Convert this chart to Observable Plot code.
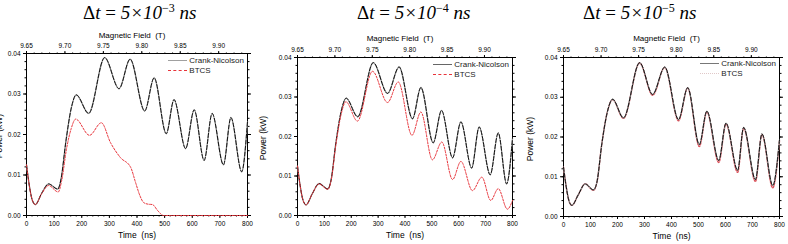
<!DOCTYPE html>
<html><head><meta charset="utf-8">
<script src="https://cdn.jsdelivr.net/npm/d3@7"></script>
<script src="https://cdn.jsdelivr.net/npm/@observablehq/plot@0.6"></script>
<style>
body{margin:0;width:788px;height:244px;overflow:hidden;background:#fff;position:relative;font-family:"Liberation Sans",Arial,sans-serif;}
.title{position:absolute;top:2px;font-family:"Liberation Serif","Times New Roman",serif;font-size:19px;white-space:nowrap;line-height:22px;color:#000}
.title sup{font-size:12px;vertical-align:0;position:relative;top:-7px}
.panel{position:absolute;top:0}
.panel svg{max-width:none !important;display:block}
.ylab{position:absolute;font-size:8.5px;line-height:10px;white-space:nowrap;color:#000;transform:translate(-50%,-50%) rotate(-90deg)}
.legend{position:absolute;font-size:8px;line-height:10px;color:#222;white-space:nowrap}
.legend .sw{display:inline-block;width:19px;height:0;vertical-align:middle;margin-right:2px}
</style></head><body>
<script>
// ---- axis ticks ----
const timeTicks = [0, 100, 200, 300, 400, 500, 600, 700, 800];
const timeMinor = d3.range(0, 801, 20);
const powerTicks = [0, 0.01, 0.02, 0.03, 0.04];
const powerMinor = d3.range(0, 0.0401, 0.002);
const fieldTicks = [9.65, 9.70, 9.75, 9.80, 9.85, 9.90];
const fieldMinor = d3.range(9.65, 9.9376, 0.01);
const fieldDomain = [9.65, 9.9375];
const timeDomain = [0, 800];

// ---- panel 1 (dt = 5e-3 ns) ----
const cnT1 = [0,10,20,32,55,80,113,125,143,162,180,225,283,335,375,428,462,506,534,576,607,643,672,713,740,779,800];
const cnV1 = [0.0125,0.0075,0.0040,0.0027,0.0055,0.0078,0.0065,0.0090,0.0185,0.0265,0.0298,0.0252,0.0390,0.0313,0.0386,0.0258,0.0340,0.0202,0.0286,0.0165,0.0261,0.0136,0.0252,0.0125,0.0242,0.0108,0.0231];
const btT1 = [0,10,20,32,55,80,115,127,145,162,178,228,271,304,340,377,395,410,424,440,456,475,496,800];
const btV1 = [0.0125,0.0075,0.0040,0.0027,0.0054,0.0074,0.0058,0.0085,0.0165,0.0215,0.0238,0.0198,0.0229,0.0180,0.0143,0.0119,0.0081,0.0050,0.0032,0.0028,0.0027,0.0012,0,0];

// ---- panel 2 (dt = 5e-4 ns) ----
const cnT2 = [0,10,20,32,55,80,113,125,143,162,181,224,282,335,378,428,459,505,536,577,608,648,676,717,747,778,800];
const cnV2 = [0.0125,0.0075,0.0040,0.0027,0.0055,0.0081,0.0067,0.0090,0.0185,0.0262,0.0297,0.0250,0.0387,0.0309,0.0376,0.0245,0.0324,0.0184,0.0266,0.0146,0.0237,0.0120,0.0224,0.0103,0.0209,0.0080,0.0195];
const btT2 = [0,10,20,32,55,80,113,125,143,162,180,223,279,335,375,426,459,502,537,577,608,651,686,719,747,781,800];
const btV2 = [0.0125,0.0075,0.0040,0.0027,0.0055,0.0080,0.0066,0.0088,0.0180,0.0255,0.0288,0.0239,0.0365,0.0286,0.0338,0.0203,0.0262,0.0141,0.0186,0.0091,0.0137,0.0063,0.0097,0.0038,0.0068,0.0016,0.0038];

// ---- panel 3 (dt = 5e-5 ns) ----
const cnT3 = [0,10,20,31,55,80,111,124,142,161,182,222,282,330,375,426,460,503,531,575,602,645,667,711,735,775,800];
const cnV3 = [0.0124,0.0075,0.0040,0.0028,0.0055,0.0082,0.0067,0.0087,0.0183,0.0259,0.0295,0.0248,0.0387,0.0307,0.0376,0.0244,0.0324,0.0181,0.0265,0.0141,0.0235,0.0116,0.0224,0.0093,0.0208,0.0078,0.0193];
const btT3 = [0,10,20,31,55,80,111,124,142,161,182,222,282,330,375,426,460,503,531,575,602,645,667,711,735,775,800];
const btV3 = [0.0124,0.0075,0.0040,0.0028,0.0055,0.0082,0.0066,0.0087,0.0183,0.0259,0.0294,0.0247,0.0386,0.0305,0.0375,0.0241,0.0323,0.0176,0.0263,0.0136,0.0233,0.0111,0.0222,0.0088,0.0206,0.0072,0.0190];

const titles = ["3", "4", "5"];
const seriesNames = ["Crank-Nicolson", "BTCS"];
const axisLabels = {x: "Time  (ns)", top: "Magnetic Field  (T)", y: "Power (kW)"};

// layout (page pixels)
const panels = [
  {L:26,  R:247, T:53, B:215, topLab:32, yl:27, titleX:83,  cnT:cnT1, cnV:cnV1, btT:btT1, btV:btV1, exp:titles[0], legTop:56, btcsColor:"#e8333a", btcsLeg:"1px dashed #e8333a", cnLeg:"1.5px solid #a0a0a0", btOpacity:1, btUnder:false},
  {L:297, R:512, T:57, B:215, topLab:35, yl:34, titleX:357, cnT:cnT2, cnV:cnV2, btT:btT2, btV:btV2, exp:titles[1], legTop:60, btcsColor:"#e8333a", btcsLeg:"1px dashed #e8333a", cnLeg:"1.5px solid #666", btOpacity:1, btUnder:false},
  {L:563, R:779, T:57, B:216, topLab:35, yl:33, titleX:583, cnT:cnT3, cnV:cnV3, btT:btT3, btV:btV3, exp:titles[2], legTop:59, btcsColor:"#d8404a", btcsLeg:"1px dotted #e0c8c8", cnLeg:"1.2px solid #777", btOpacity:0.9, btUnder:true}
];

const fieldToTime = d3.scaleLinear().domain(fieldDomain).range(timeDomain);
const f2 = d3.format(".2f");
const ml = 40, mr = 12;

for (const p of panels) {
  const cnRows = d3.zip(p.cnT, p.cnV).map(([t, v]) => ({t, v}));
  const btRows = d3.zip(p.btT, p.btV).map(([t, v]) => ({t, v}));
  const W = p.R - p.L + ml + mr;
  const axisFont = {fontSize: 6.5, label: null};
  const cnMarks = [
    Plot.line(cnRows, {x: "t", y: "v", curve: "monotone-x", stroke: "#9a9a9a", strokeWidth: 1.3}),
    Plot.line(cnRows, {x: "t", y: "v", curve: "monotone-x", stroke: "#111", strokeWidth: 1, strokeDasharray: "4,2"})
  ];
  const btMark = Plot.line(btRows, {x: "t", y: "v", curve: "monotone-x", stroke: p.btcsColor, strokeOpacity: p.btOpacity, strokeWidth: p.btUnder ? 1.4 : 1, strokeDasharray: "2,1.5"});
  const chart = Plot.plot({
    width: W, height: 244,
    marginLeft: ml, marginRight: mr, marginTop: p.T, marginBottom: 244 - p.B,
    x: {domain: timeDomain, label: null},
    y: {domain: [0, 0.04], label: null},
    style: {background: "transparent", overflow: "visible", fontFamily: "'Liberation Sans', Arial, sans-serif", color: "#000"},
    marks: [
      Plot.axisX({...axisFont, ticks: timeMinor, tickSize: 1.5, tickFormat: () => ""}),
      Plot.axisX({...axisFont, ticks: timeTicks, tickSize: 3, tickPadding: 3, tickFormat: d3.format("d")}),
      Plot.axisX({...axisFont, anchor: "top", ticks: fieldMinor.map(fieldToTime), tickSize: 1.5, tickFormat: () => ""}),
      Plot.axisX({...axisFont, anchor: "top", ticks: fieldTicks.map(fieldToTime), tickSize: 3, tickPadding: 3, tickFormat: t => f2(fieldToTime.invert(t))}),
      Plot.axisY({...axisFont, ticks: powerMinor, tickSize: 1.5, tickFormat: () => ""}),
      Plot.axisY({...axisFont, ticks: powerTicks, tickSize: 3, tickPadding: 3, tickFormat: f2}),
      Plot.axisY({...axisFont, anchor: "right", ticks: powerMinor, tickSize: 1.5, tickFormat: () => ""}),
      Plot.axisY({...axisFont, anchor: "right", ticks: powerTicks, tickSize: 3, tickFormat: () => ""}),
      Plot.frame({stroke: "#000", strokeWidth: 1}),
      ...(p.btUnder ? [btMark, ...cnMarks] : [...cnMarks, btMark]),
      Plot.text([axisLabels.x], {text: d => d, frameAnchor: "bottom", dy: 22, fontSize: 8.5}),
      Plot.text([axisLabels.top], {text: d => d, frameAnchor: "top", dy: -(p.T - p.topLab), dx: -5, fontSize: 8})
    ]
  });
  const wrap = document.createElement("div");
  wrap.className = "panel";
  wrap.style.left = (p.L - ml) + "px";
  wrap.style.width = W + "px";
  wrap.appendChild(chart);
  document.body.appendChild(wrap);

  const ylab = document.createElement("div");
  ylab.className = "ylab";
  ylab.style.left = (p.L - p.yl) + "px";
  ylab.style.top = ((p.T + p.B) / 2 + 2) + "px";
  ylab.textContent = axisLabels.y;
  document.body.appendChild(ylab);

  const title = document.createElement("div");
  title.className = "title";
  title.style.left = p.titleX + "px";
  title.innerHTML = `Δ<i>t</i> = <i>5×10</i><sup>−${p.exp}</sup> <i>ns</i>`;
  document.body.appendChild(title);

  const leg = document.createElement("div");
  leg.className = "legend";
  leg.style.right = (788 - (p.R - 3)) + "px";
  leg.style.top = p.legTop + "px";
  leg.innerHTML = `<div><span class="sw" style="border-top:${p.cnLeg}"></span>${seriesNames[0]}</div>` +
                  `<div><span class="sw" style="border-top:${p.btcsLeg}"></span>${seriesNames[1]}</div>`;
  document.body.appendChild(leg);
}
</script>
</body></html>
